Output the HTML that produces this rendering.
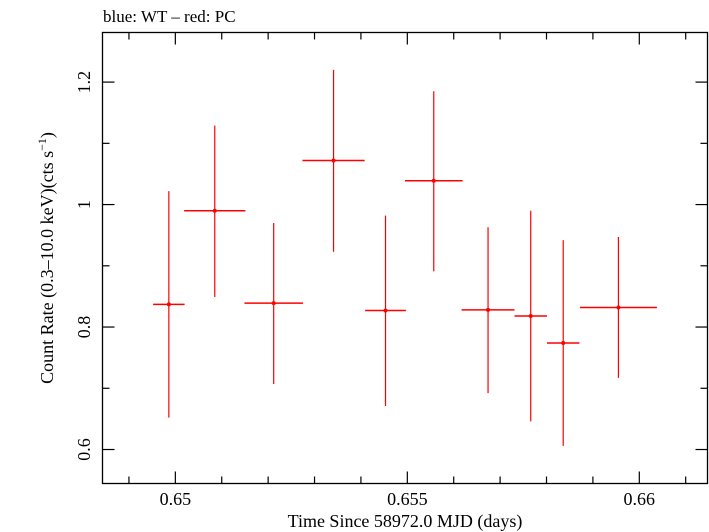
<!DOCTYPE html>
<html><head><meta charset="utf-8"><style>
html,body{margin:0;padding:0;background:#fff;}
svg{display:block;font-family:"Liberation Serif",serif;}
</style></head><body>
<svg id="chart" width="709" height="532" viewBox="0 0 709 532">
<text x="103" y="22" font-size="17">blue: WT – red: PC</text>
<rect x="102.5" y="32.5" width="605" height="451" fill="none" stroke="#000" stroke-width="1.3"/>
<g id="axes"></g>
<g id="series"></g>
<text x="405" y="527" font-size="18" text-anchor="middle">Time Since 58972.0 MJD (days)</text>
<text transform="translate(53,258) rotate(-90)" font-size="18" text-anchor="middle">Count Rate (0.3–10.0 keV)(cts s<tspan font-size="12" dy="-7">−1</tspan><tspan dy="7">)</tspan></text>
</svg>
<script>
const times=[0.64986,0.65085,0.65212,0.65341,0.65453,0.65557,0.65674,0.65766,0.65836,0.65955];
const timeErr=[0.00034,0.00066,0.00063,0.00067,0.00044,0.00062,0.00057,0.00035,0.00035,0.00083];
const rates=[0.837,0.990,0.839,1.072,0.827,1.039,0.828,0.818,0.774,0.832];
const rateHi=[1.022,1.129,0.970,1.220,0.982,1.185,0.963,0.990,0.942,0.947];
const rateLo=[0.652,0.849,0.707,0.923,0.671,0.891,0.692,0.646,0.606,0.717];
const xTicks=[0.65,0.655,0.66];
const xTickLabels=["0.65","0.655","0.66"];
const yTicks=[0.6,0.8,1.0,1.2];
const yTickLabels=["0.6","0.8","1","1.2"];
const X0=102.5,X1=707.5,Y0=32.5,Y1=483.5;
const xmin=0.64843,xmax=0.66147,ymin=0.5445,ymax=1.281;
const xs=v=>X0+(v-xmin)/(xmax-xmin)*(X1-X0);
const ys=v=>Y1-(v-ymin)/(ymax-ymin)*(Y1-Y0);
const NS="http://www.w3.org/2000/svg";
function mk(tag,attrs,parent){const e=document.createElementNS(NS,tag);for(const k in attrs)e.setAttribute(k,attrs[k]);parent.appendChild(e);return e;}
const axes=document.getElementById('axes');
for(let i=0;i<=13;i++){const v=0.649+i*0.001;if(v<xmin||v>xmax)continue;
 const major=xTicks.some(t=>Math.abs(t-v)<1e-7);const L=major?12:7;const x=xs(v);
 let t=mk('line',{x1:x,x2:x,y1:Y1,y2:Y1-L,stroke:'#000','stroke-width':1.2},axes);
 
 t=mk('line',{x1:x,x2:x,y1:Y0,y2:Y0+L,stroke:'#000','stroke-width':1.2},axes);
 }
xTicks.forEach((v,i)=>{const t=mk('text',{x:xs(v),y:505,'font-size':18,'text-anchor':'middle'},axes);t.textContent=xTickLabels[i];
 });
for(let i=0;i<=8;i++){const v=0.6+i*0.1;if(v>ymax)continue;
 const major=yTicks.some(t=>Math.abs(t-v)<1e-7);const L=major?12:7;const y=ys(v);
 let t=mk('line',{x1:X0,x2:X0+L,y1:y,y2:y,stroke:'#000','stroke-width':1.2},axes);
 
 t=mk('line',{x1:X1,x2:X1-L,y1:y,y2:y,stroke:'#000','stroke-width':1.2},axes);
 }
yTicks.forEach((v,i)=>{const y=ys(v);const t=mk('text',{x:0,y:0,'font-size':18,'text-anchor':'middle',transform:`translate(90,${y}) rotate(-90)`},axes);t.textContent=yTickLabels[i];
 });
const ser=document.getElementById('series');
times.forEach((tv,i)=>{const g=mk('g',{},ser);
 
 
 mk('line',{x1:xs(tv-timeErr[i]),x2:xs(tv+timeErr[i]),y1:ys(rates[i]),y2:ys(rates[i]),stroke:'#f00','stroke-width':1.5},g);
 mk('line',{x1:xs(tv),x2:xs(tv),y1:ys(rateHi[i]),y2:ys(rateLo[i]),stroke:'#f00','stroke-width':1.2},g);
 mk('circle',{cx:xs(tv),cy:ys(rates[i]),r:2,fill:'#f00'},g);});
</script>
</body></html>
